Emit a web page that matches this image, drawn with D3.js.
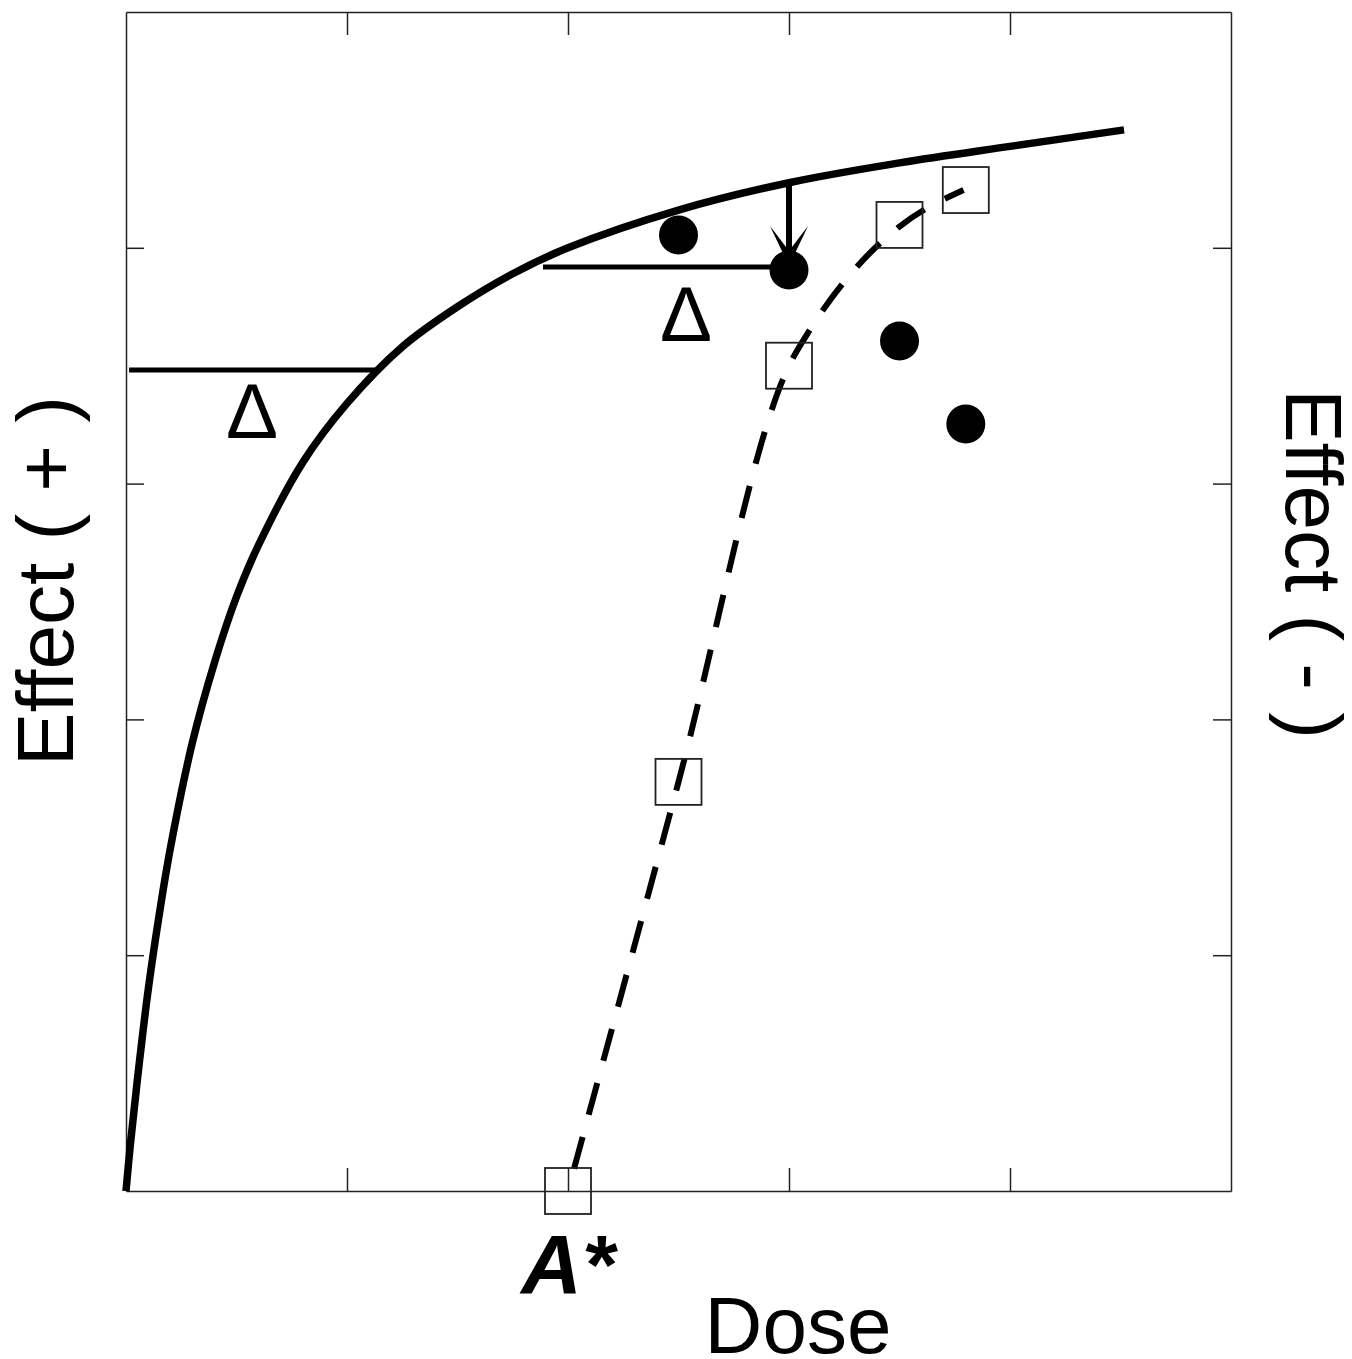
<!DOCTYPE html>
<html>
<head>
<meta charset="utf-8">
<script src="https://cdn.jsdelivr.net/npm/d3@7"></script>
<style>
  body { margin: 0; background: #fff; }
  text { font-family: "Liberation Sans", Arial, sans-serif; fill: #000; }
</style>
</head>
<body>
<div id="chart"></div>
<script>
// solid dose-response curve
const curveDose = [0, 0.02, 0.05, 0.1, 0.15, 0.2, 0.3, 0.4, 0.5, 0.6, 0.8, 1.0, 1.25, 1.5, 1.75, 2.0, 2.5, 3.0, 3.5, 4.0, 4.516];
const curveEffect = [0, 0.2, 0.46, 0.85, 1.17, 1.45, 1.9, 2.24, 2.52, 2.74, 3.09, 3.34, 3.58, 3.75, 3.89, 4.0, 4.16, 4.276, 4.36, 4.43, 4.5];

// dashed curve
const dashDose = [2.0, 2.5, 3.0, 3.1, 3.28, 3.5, 3.79];
const dashEffect = [0, 1.735, 3.5, 3.66, 3.89, 4.09, 4.245];

// open squares
const squareDose = [2.0, 2.5, 3.0, 3.5, 3.8];
const squareEffect = [0, 1.735, 3.5, 4.097, 4.245];

// filled circles
const circleDose = [2.5, 3.0, 3.5, 3.8];
const circleEffect = [4.054, 3.906, 3.605, 3.253];

// horizontal delta segments [x0, x1, y]
const deltaSegments = [[0.014, 1.14, 3.482], [1.887, 3.0, 3.919]];
// delta labels [x, baseline y]
const deltaLabels = [[0.57, 3.193], [2.534, 3.605]];
// arrow [x, yFrom, yTo]
const arrowSeg = [3.0, 4.276, 3.923];

const tickValues = [1, 2, 3, 4];

const chart = {
  width: 1352,
  height: 1359,
  margin: { top: 12, right: 121, bottom: 168, left: 126 },
};

const x = d3.scaleLinear()
  .domain([0, 5])
  .range([chart.margin.left, chart.width - chart.margin.right]);

const y = d3.scaleLinear()
  .domain([0, 5])
  .range([chart.height - chart.margin.bottom, chart.margin.top]);

const svg = d3.select("#chart")
  .append("svg")
  .attr("width", chart.width)
  .attr("height", chart.height);

// frame with inward ticks
function styleAxis(g) {
  g.selectAll("path, line").attr("stroke", "#222").attr("stroke-width", 1.5);
  g.selectAll("text").remove();
}

svg.append("g")
  .attr("transform", `translate(0,${y(0)})`)
  .call(d3.axisBottom(x).tickValues(tickValues).tickSize(-23).tickSizeOuter(0))
  .call(styleAxis);

svg.append("g")
  .attr("transform", `translate(0,${y(5)})`)
  .call(d3.axisTop(x).tickValues(tickValues).tickSize(-23).tickSizeOuter(0))
  .call(styleAxis);

svg.append("g")
  .attr("transform", `translate(${x(0)},0)`)
  .call(d3.axisLeft(y).tickValues(tickValues).tickSize(-18).tickSizeOuter(0))
  .call(styleAxis);

svg.append("g")
  .attr("transform", `translate(${x(5)},0)`)
  .call(d3.axisRight(y).tickValues(tickValues).tickSize(-18).tickSizeOuter(0))
  .call(styleAxis);

const smoothLine = d3.line()
  .x(d => x(d[0]))
  .y(d => y(d[1]))
  .curve(d3.curveCatmullRom.alpha(0.5));

const dashLine = d3.line()
  .x(d => x(d[0]))
  .y(d => y(d[1]))
  .curve(d3.curveMonotoneX);

svg.append("path")
  .datum(d3.zip(curveDose, curveEffect))
  .attr("d", smoothLine)
  .attr("fill", "none")
  .attr("stroke", "#000")
  .attr("stroke-width", 7.5);

svg.append("path")
  .datum(d3.zip(dashDose, dashEffect))
  .attr("d", dashLine)
  .attr("fill", "none")
  .attr("stroke", "#000")
  .attr("stroke-width", 6)
  .attr("stroke-dasharray", "33,23")
  .attr("stroke-dashoffset", 33);

svg.append("g")
  .selectAll("line")
  .data(deltaSegments)
  .join("line")
  .attr("x1", d => x(d[0]))
  .attr("x2", d => x(d[1]))
  .attr("y1", d => y(d[2]))
  .attr("y2", d => y(d[2]))
  .attr("stroke", "#000")
  .attr("stroke-width", 5);

// arrow head
svg.append("defs")
  .append("marker")
  .attr("id", "head")
  .attr("markerUnits", "userSpaceOnUse")
  .attr("viewBox", "-42 -22 44 44")
  .attr("markerWidth", 44)
  .attr("markerHeight", 44)
  .attr("refX", 0)
  .attr("refY", 0)
  .attr("orient", "auto")
  .append("path")
  .attr("d", "M0,0 L-40,-19 L-19,-3 L-19,3 L-40,19 Z")
  .attr("fill", "#000");

svg.append("line")
  .attr("x1", x(arrowSeg[0]))
  .attr("x2", x(arrowSeg[0]))
  .attr("y1", y(arrowSeg[1]))
  .attr("y2", y(arrowSeg[2]))
  .attr("stroke", "#000")
  .attr("stroke-width", 6)
  .attr("marker-end", "url(#head)");

svg.append("g")
  .selectAll("circle")
  .data(d3.zip(circleDose, circleEffect))
  .join("circle")
  .attr("cx", d => x(d[0]))
  .attr("cy", d => y(d[1]))
  .attr("r", 19.5)
  .attr("fill", "#000");

const side = 46;
svg.append("g")
  .selectAll("rect")
  .data(d3.zip(squareDose, squareEffect))
  .join("rect")
  .attr("x", d => x(d[0]) - side / 2)
  .attr("y", d => y(d[1]) - side / 2)
  .attr("width", side)
  .attr("height", side)
  .attr("fill", "none")
  .attr("stroke", "#222")
  .attr("stroke-width", 1.8);

svg.append("g")
  .selectAll("text")
  .data(deltaLabels)
  .join("text")
  .attr("x", d => x(d[0]))
  .attr("y", d => y(d[1]))
  .attr("text-anchor", "middle")
  .attr("font-size", 78)
  .text("Δ");

svg.append("text")
  .attr("x", x(2))
  .attr("y", 1294)
  .attr("text-anchor", "middle")
  .attr("font-size", 84)
  .attr("font-weight", "bold")
  .attr("font-style", "italic")
  .text("A*");

svg.append("text")
  .attr("x", 798)
  .attr("y", 1353)
  .attr("text-anchor", "middle")
  .attr("font-size", 80)
  .text("Dose");

svg.append("text")
  .attr("transform", "translate(73,581) rotate(-90)")
  .attr("text-anchor", "middle")
  .attr("font-size", 80)
  .text("Effect ( + )");

svg.append("text")
  .attr("transform", "translate(1286,564) rotate(90)")
  .attr("text-anchor", "middle")
  .attr("font-size", 80)
  .text("Effect ( - )");
</script>
</body>
</html>
